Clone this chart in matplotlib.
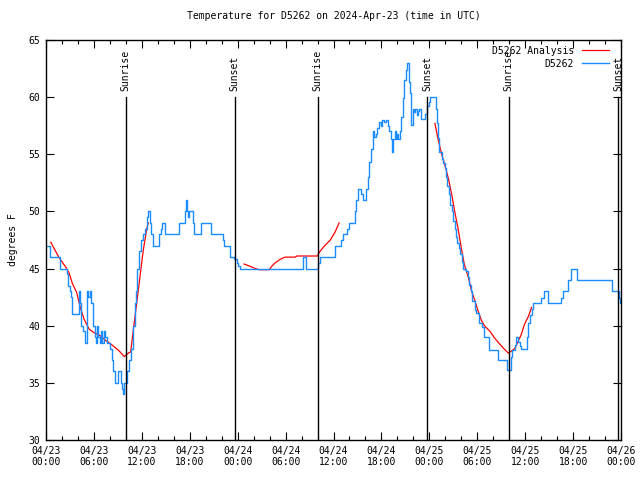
import matplotlib
matplotlib.use("Agg")
import matplotlib.pyplot as plt
from matplotlib.ticker import MultipleLocator

# time is hours since 2024-04-23 00:00 UTC
obs_hours = [0.1, 0.45, 1.75, 2.6, 2.75, 2.95, 3.1, 3.3, 4.1, 4.2, 4.35, 4.6, 4.85,
             5.15, 5.3, 5.45, 5.6, 5.9, 6.1, 6.25, 6.4, 6.55, 6.7, 6.85, 7.0, 7.2,
             7.35, 7.6, 8.0, 8.3, 8.45, 8.6, 8.9, 9.05, 9.3, 9.4, 9.55, 9.7, 9.8,
             10.0, 10.2, 10.45, 10.7, 10.9, 11.1, 11.3, 11.45, 11.7, 11.9, 12.1,
             12.4, 12.6, 12.8, 13.0, 13.2, 13.35, 14.15, 14.35, 14.55, 14.9, 16.7,
             17.35, 17.5, 17.65, 17.75, 17.85, 17.95, 18.35, 18.55, 19.45, 20.7,
             22.15, 22.3, 23.1, 23.55, 23.9, 24.1, 24.35, 32.15, 32.6, 34.1, 34.3,
             36.25, 37.0, 37.2, 37.75, 37.95, 38.65, 38.85, 39.05, 39.45, 39.65,
             40.05, 40.3, 40.5, 40.7, 40.95, 41.1, 41.3, 41.5, 41.7, 41.9, 42.1,
             42.3, 42.55, 42.8, 43.0, 43.2, 43.35, 43.5, 43.65, 43.8, 43.95, 44.1,
             44.3, 44.5, 44.65, 44.85, 45.05, 45.2, 45.4, 45.55, 45.65, 45.75,
             45.9, 46.1, 46.25, 46.4, 46.6, 46.75, 46.9, 47.4, 47.7, 47.9, 48.1,
             48.85, 48.95, 49.1, 49.25, 49.6, 49.75, 49.95, 50.1, 50.25, 50.5,
             50.6, 50.8, 51.0, 51.2, 51.35, 51.5, 51.75, 51.9, 52.15, 52.25, 52.6,
             52.8, 53.0, 53.2, 53.4, 53.7, 53.9, 54.25, 54.55, 54.8, 55.45, 55.5,
             56.55, 57.7, 58.2, 58.4, 58.7, 58.9, 59.1, 59.35, 59.5, 60.2, 60.4,
             60.6, 60.8, 61.0, 62.0, 62.3, 62.9, 64.45, 64.7, 65.4, 65.7, 66.5,
             70.9, 71.8, 71.9, 72.0]
obs_temps = [47, 46, 45, 44.5, 43.5, 43, 42.5, 41, 43, 42, 40, 39.5, 38.5,
             43, 42.5, 43, 42, 40, 39, 38.5, 40, 39, 38.5, 39.5, 38.5, 39.5,
             39, 38.5, 38, 37, 36, 35, 35, 36, 36, 35, 34.5, 34, 35,
             35, 36, 37, 38, 40, 42, 43, 45, 46.5, 47.5, 48,
             48.5, 49.5, 50, 49, 48, 47, 48, 48.5, 49, 48, 49,
             50, 51, 50, 49.5, 49.8, 50, 49, 48, 49, 48,
             47.5, 47, 46, 45.8, 45.5, 45.2, 45, 46, 45, 45.5, 46,
             47, 47.5, 48, 48.5, 49, 50, 51, 52, 51.5, 51,
             52, 53, 54.3, 55.5, 57, 56.5, 56.8, 57.3, 57.8, 57.5, 58,
             57.8, 58, 57.5, 57, 56.3, 55.2, 56.3, 57, 56.3, 56.8, 56.3,
             57, 58.3, 59.9, 61.5, 62.4, 63, 61.3, 60.4, 57.9, 57.6,
             59, 58.7, 59, 58.4, 58.8, 59, 58.1, 58.5, 59.2, 59.6, 60,
             59, 57.7, 56.4, 55.2, 54.6, 54.2, 53.8, 53, 52.2, 51.5,
             50.6, 50, 49.2, 48.5, 47.8, 47.2, 46.8, 46.3, 45.6, 45, 44.8,
             44.3, 43.6, 43, 42.2, 41.4, 41.1, 40.2, 39.9, 39, 38.9, 37.9,
             37, 36.1, 37.3, 37.9, 38.3, 39, 38.6, 38.2, 38, 39, 40.2,
             40.9, 41.5, 42, 42.4, 43, 42, 42.4, 43, 44, 45, 44,
             43, 42.4, 42, 42]

# analysis curve, three separate pieces
ana1_hours = [0.6, 1.6, 2.5, 2.9, 3.3, 3.85, 4.25, 4.75, 5.4, 6.0, 6.85, 7.5, 8.3,
              9.15, 9.8, 10.3, 10.6, 10.93, 11.36, 11.77, 12.18, 12.6, 12.8]
ana1_temps = [47.3, 46.0, 45.1, 44.6, 43.7, 42.9, 41.7, 40.6, 39.7, 39.4, 39.1, 38.7, 38.3,
              37.8, 37.3, 37.6, 37.7, 39.6, 42.0, 44.3, 46.6, 48.4, 49.0]
ana2_hours = [24.8, 25.55, 26.2, 26.7, 27.96, 28.26, 28.7, 29.3, 29.9, 31.2, 31.4,
              33.97, 34.3, 34.9, 35.6, 36.2, 36.7]
ana2_temps = [45.4, 45.2, 45.0, 44.9, 44.9, 45.2, 45.5, 45.8, 46.0, 46.0, 46.1,
              46.1, 46.5, 47.0, 47.5, 48.2, 49.0]
ana3_hours = [48.7, 49.1, 49.55, 49.96, 50.4, 50.8, 51.2, 51.6, 52.0, 52.4, 52.9, 53.3,
              53.7, 54.1, 54.5, 54.9, 55.6, 56.2, 56.8, 57.6, 57.9, 58.3, 58.7, 59.1,
              59.5, 59.9, 60.4, 60.8]
ana3_temps = [57.7, 56.3, 55.0, 54.0, 52.85, 51.5, 49.9, 48.5, 46.8, 45.3, 44.2, 43.0,
              42.2, 41.3, 40.5, 40.0, 39.5, 38.9, 38.4, 37.8, 37.6, 37.8, 38.0, 38.6,
              39.2, 40.1, 40.8, 41.6]

sun_hours = [10.0, 23.65, 34.0, 47.7, 57.95, 71.65]
sun_labels = ["Sunrise", "Sunset", "Sunrise", "Sunset", "Sunrise", "Sunset"]

tick_hours = list(range(0, 73, 6))
tick_labels = ["04/23\n00:00", "04/23\n06:00", "04/23\n12:00", "04/23\n18:00",
               "04/24\n00:00", "04/24\n06:00", "04/24\n12:00", "04/24\n18:00",
               "04/25\n00:00", "04/25\n06:00", "04/25\n12:00", "04/25\n18:00",
               "04/26\n00:00"]

font = "DejaVu Sans Mono"
fs = 7
plt.rcParams["font.family"] = font
plt.rcParams["font.size"] = fs

fig = plt.figure(figsize=(6.4, 4.8), dpi=100)
ax = fig.add_axes([46 / 640, 40 / 480, 575 / 640, 400 / 480])

red = "#ff0000"
blue = "#1a8cff"

ax.plot(ana1_hours, ana1_temps, color=red, lw=0.9, label="D5262 Analysis")
ax.plot(ana2_hours, ana2_temps, color=red, lw=0.9)
ax.plot(ana3_hours, ana3_temps, color=red, lw=0.9)
ax.plot(obs_hours, obs_temps, color=blue, lw=1.0, drawstyle="steps-post", label="D5262")

for h, lab in zip(sun_hours, sun_labels):
    ax.plot([h, h], [30, 60], color="black", lw=1.0)
    ax.text(h, 60.5, lab, rotation=90, ha="center", va="bottom", fontsize=fs)

ax.set_xlim(0, 72)
ax.set_ylim(30, 65)
ax.set_xticks(tick_hours)
ax.set_xticklabels(tick_labels)
ax.xaxis.set_minor_locator(MultipleLocator(2))
ax.yaxis.set_major_locator(MultipleLocator(5))
ax.tick_params(which="both", direction="in", top=True, right=True)
ax.tick_params(which="major", length=6, width=0.8, pad=4)
ax.tick_params(which="minor", length=3, width=0.8)
for s in ax.spines.values():
    s.set_linewidth(1.0)

ax.set_ylabel("degrees F", labelpad=8)
ax.set_title("Temperature for D5262 on 2024-Apr-23 (time in UTC)", fontsize=fs, pad=15)

ax.legend(loc="upper right", bbox_to_anchor=(0.989, 1.0), frameon=False,
          markerfirst=False, handlelength=2.8, handletextpad=0.8,
          labelspacing=0.3, borderaxespad=0.2, fontsize=fs)

fig.savefig("out.png", dpi=100)
